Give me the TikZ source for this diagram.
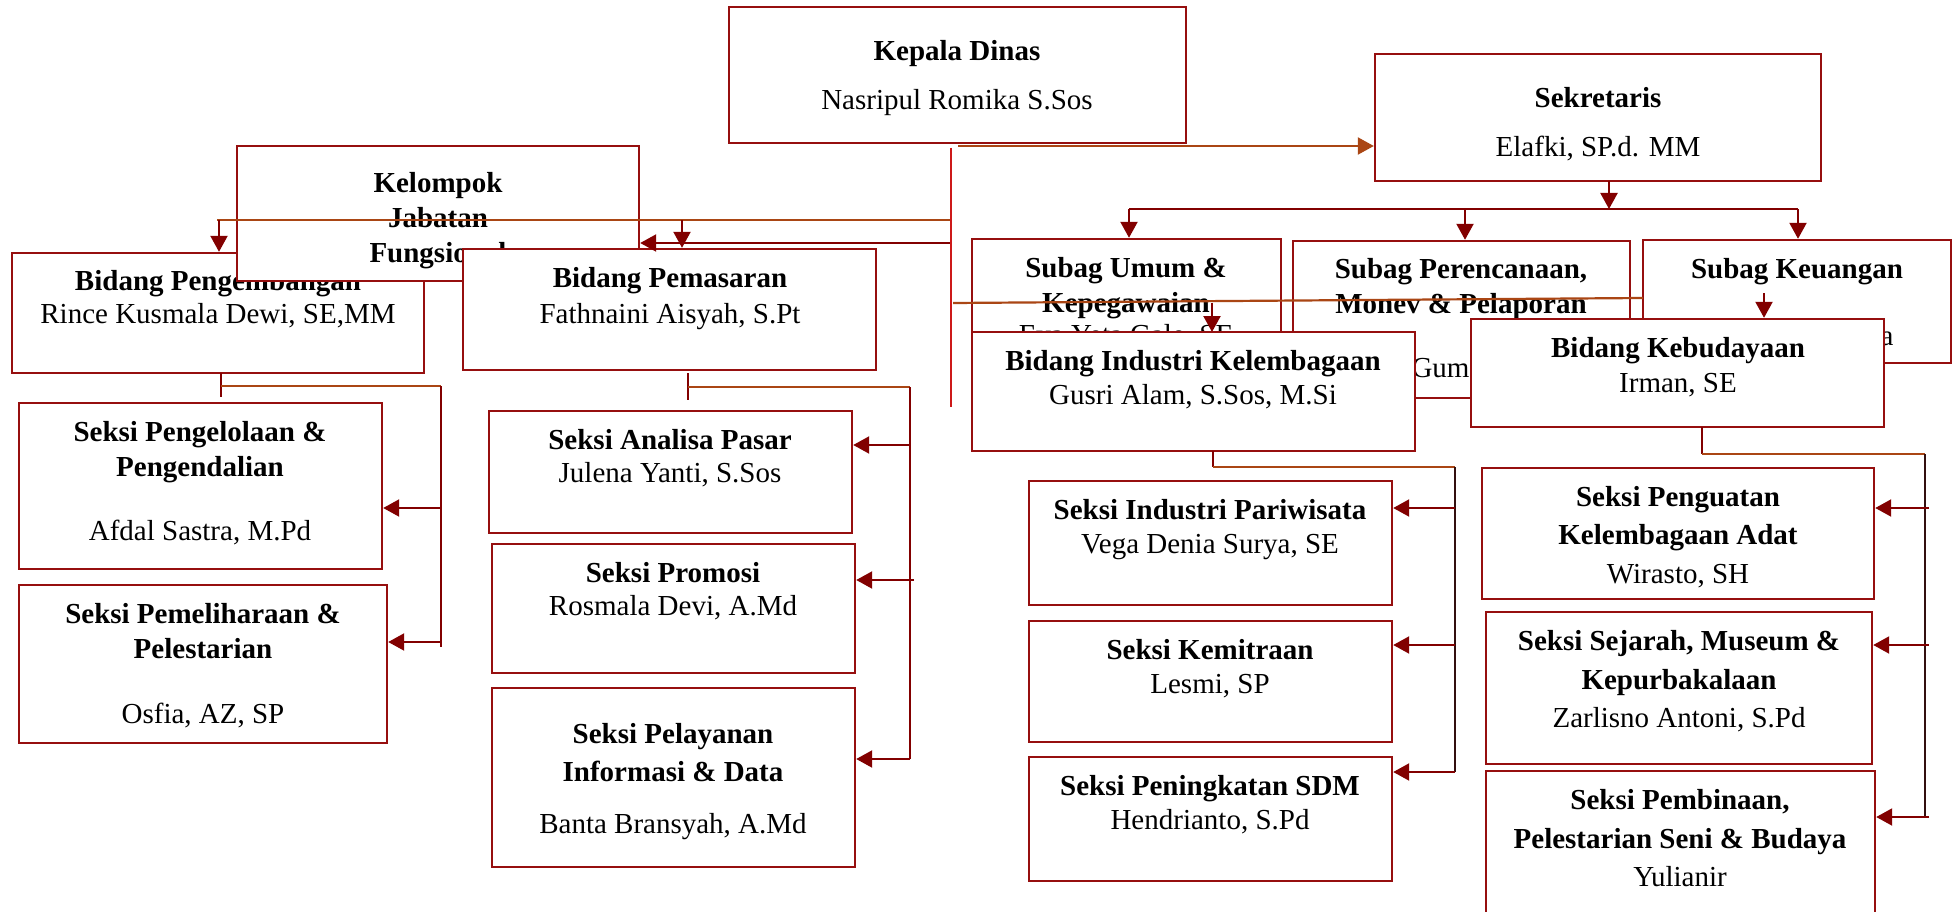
\documentclass[tikz,border=0pt]{standalone}
\usepackage{fontspec}
\setmainfont{Liberation Serif}
\usetikzlibrary{arrows.meta,fit}
\definecolor{cBox}{RGB}{150,15,15}
\definecolor{cArr}{RGB}{130,0,0}
\definecolor{cOr}{RGB}{170,70,20}
\definecolor{cRed}{RGB}{205,25,25}
\definecolor{cDark}{RGB}{50,15,15}
\newcommand\myfs{\fontsize{29pt}{35pt}\selectfont}
\tikzset{
  box/.style={draw=cBox, line width=2.4pt, fill=white, rectangle, inner sep=0pt},
  tb/.style={anchor=base, inner sep=0pt, font=\myfs\bfseries},
  tn/.style={anchor=base, inner sep=0pt, font=\myfs},
  aline/.style={draw=cArr, line width=2.2pt},
  oline/.style={draw=cOr, line width=2.2pt},
  rline/.style={draw=cRed, line width=2.4pt},
  dline/.style={draw=cDark, line width=1.8pt},
  tip/.style={-{Triangle[length=16pt,width=17pt]}},
}
\begin{document}
\begin{tikzpicture}[x=1pt,y=-1pt]
\useasboundingbox (0,0) rectangle (1953,912);
\clip (0,0) rectangle (1953,912);

% ---------- left top cluster ----------
\node[box, fit={(12,253) (424,373)}] (bpg) {};
\node[tb] (bpg1) at (218,290) {Bidang Pengembangan};
\node[tn] (bpg2) at (218,323) {Rince Kusmala Dewi, SE,MM};

\node[box, fit={(237,146) (639,281)}] (kjf) {};
\node[tb] (kjf1) at (438,193) {Kelompok};
\node[tb] (kjf2) at (438,227) {Jabatan};
\node[tb] (kjf3) at (438,262) {Fungsional};

\coordinate (o1R) at (951,220);
\coordinate (o1L) at (217,220);
\draw[oline] (o1R) -- (o1L);
\coordinate (a1) at (219,220);
\draw[aline,tip] (a1) -- (a1 |- bpg.north);

\node[box, fit={(463,249) (876,370)}] (bpm) {};
\node[tb] (bpm1) at (670,287) {Bidang Pemasaran};
\node[tn] (bpm2) at (670,323) {Fathnaini Aisyah, S.Pt};

\coordinate (a2) at (682,220);
\draw[aline,tip] (a2) -- (a2 |- bpm.north);
\coordinate (r2) at (951,243);
\draw[aline,tip] (r2) -- (r2 -| kjf.east);

% ---------- top ----------
\node[box, fit={(729,7) (1186,143)}] (kd) {};
\node[tb] (kd1) at (957,61) {Kepala Dinas};
\node[tn] (kd2) at (957,110) {Nasripul Romika S.Sos};

\node[box, fit={(1375,54) (1821,181)}] (skr) {};
\node[tb] (skr1) at (1598,108) {Sekretaris};
\node[tn] (skr2) at (1598,157) {Elafki, SP.d. MM};

\coordinate (kdA) at (958,146);
\draw[oline,tip] (kdA) -- (kdA -| skr.west);

\coordinate (vTop) at (951,148);
\coordinate (vBot) at (951,407);
\draw[rline] (vTop) -- (vBot);

\coordinate (sA) at (1609,181);
\coordinate (sB) at (1609,209);
\draw[aline,tip] (sA) -- (sB);
\coordinate (bL) at (1129,209);
\coordinate (bM) at (1465,209);
\coordinate (bR) at (1798,209);
\draw[aline] (bL) -- (bR);

% ---------- subag ----------
\node[box, fit={(972,239) (1281,430)}] (sum) {};
\node[tb] (sum1) at (1126,277) {Subag Umum \&};
\node[tb] (sum2) at (1126,312) {Kepegawaian};
\node[tn] (sum3) at (1126,344) {Eva Yeta Gale, SE};

\node[box, fit={(1293,241) (1630,398)}] (spr) {};
\node[tb] (spr1) at (1461,278) {Subag Perencanaan,};
\node[tb] (spr2) at (1461,313) {Monev \& Pelaporan};
\node[tn] (spr3) at (1461,377) {Eli Gumala, SE};

\node[box, fit={(1643,240) (1951,363)}] (sku) {};
\node[tb] (sku1) at (1797,278) {Subag Keuangan};
\node[tn] (sku2) at (1797,345) {Yessi Rosmalina};

\draw[aline,tip] (bL) -- (bL |- sum.north);
\draw[aline,tip] (bM) -- (bM |- spr.north);
\draw[aline,tip] (bR) -- (bR |- sku.north);

\coordinate (o3L) at (953,303);
\coordinate (o3R) at (1643,298);
\draw[oline] (o3L) -- (o3R);
\coordinate (a3) at (1212,302.5);
\coordinate (a3b) at (1212,332);
\draw[aline,tip] (a3) -- (a3b);

% ---------- bidang right ----------
\node[box, fit={(972,332) (1415,451)}] (bik) {};
\node[tb] (bik1) at (1193,370) {Bidang Industri Kelembagaan};
\node[tn] (bik2) at (1193,404) {Gusri Alam, S.Sos, M.Si};

\node[box, fit={(1471,319) (1884,427)}] (bkb) {};
\node[tb] (bkb1) at (1678,357) {Bidang Kebudayaan};
\node[tn] (bkb2) at (1678,392) {Irman, SE};

\coordinate (a4) at (1764,293);
\draw[aline,tip] (a4) -- (a4 |- bkb.north);

% ---------- Pengembangan children ----------
\node[box, fit={(19,403) (382,569)}] (sp1) {};
\node[tb] (sp1a) at (200,441) {Seksi Pengelolaan \&};
\node[tb] (sp1b) at (200,476) {Pengendalian};
\node[tn] (sp1c) at (200,540) {Afdal Sastra, M.Pd};

\node[box, fit={(19,585) (387,743)}] (sp2) {};
\node[tb] (sp2a) at (203,623) {Seksi Pemeliharaan \&};
\node[tb] (sp2b) at (203,658) {Pelestarian};
\node[tn] (sp2c) at (203,723) {Osfia, AZ, SP};

\coordinate (pgT) at (221,373);
\coordinate (pgB) at (221,397);
\draw[aline] (pgT) -- (pgB);
\coordinate (pgO) at (221,386);
\coordinate (pgV) at (441,386);
\draw[oline] (pgO) -- (pgV);
\coordinate (pgE) at (441,647);
\draw[aline] (pgV) -- (pgE);
\coordinate (pg1) at (441,508);
\coordinate (pg2) at (441,642);
\draw[aline,tip] (pg1) -- (pg1 -| sp1.east);
\draw[aline,tip] (pg2) -- (pg2 -| sp2.east);

% ---------- Pemasaran children ----------
\node[box, fit={(489,411) (852,533)}] (sa1) {};
\node[tb] (sa1a) at (670,449) {Seksi Analisa Pasar};
\node[tn] (sa1b) at (670,482) {Julena Yanti, S.Sos};

\node[box, fit={(492,544) (855,673)}] (sa2) {};
\node[tb] (sa2a) at (673,582) {Seksi Promosi};
\node[tn] (sa2b) at (673,615) {Rosmala Devi, A.Md};

\node[box, fit={(492,688) (855,867)}] (sa3) {};
\node[tb] (sa3a) at (673,743) {Seksi Pelayanan};
\node[tb] (sa3b) at (673,781) {Informasi \& Data};
\node[tn] (sa3c) at (673,833) {Banta Bransyah, A.Md};

\coordinate (pmT) at (688,373);
\coordinate (pmB) at (688,400);
\draw[aline] (pmT) -- (pmB);
\coordinate (pmO) at (688,387);
\coordinate (pmV) at (910,387);
\draw[oline] (pmO) -- (pmV);
\coordinate (pmE) at (910,759);
\draw[aline] (pmV) -- (pmE);
\coordinate (pm1) at (910,445);
\coordinate (pm2) at (914,580);
\draw[aline,tip] (pm1) -- (pm1 -| sa1.east);
\draw[aline,tip] (pm2) -- (pm2 -| sa2.east);
\draw[aline,tip] (pmE) -- (pmE -| sa3.east);

% ---------- Industri children ----------
\node[box, fit={(1029,481) (1392,605)}] (si1) {};
\node[tb] (si1a) at (1210,519) {Seksi Industri Pariwisata};
\node[tn] (si1b) at (1210,553) {Vega Denia Surya, SE};

\node[box, fit={(1029,621) (1392,742)}] (si2) {};
\node[tb] (si2a) at (1210,659) {Seksi Kemitraan};
\node[tn] (si2b) at (1210,693) {Lesmi, SP};

\node[box, fit={(1029,757) (1392,881)}] (si3) {};
\node[tb] (si3a) at (1210,795) {Seksi Peningkatan SDM};
\node[tn] (si3b) at (1210,829) {Hendrianto, S.Pd};

\coordinate (inT) at (1213,451);
\coordinate (inO) at (1213,467);
\draw[aline] (inT) -- (inO);
\coordinate (inV) at (1455,467);
\draw[oline] (inO) -- (inV);
\coordinate (inE) at (1455,772);
\draw[dline] (inV) -- (inE);
\coordinate (in1) at (1455,508);
\coordinate (in2) at (1455,645);
\draw[aline,tip] (in1) -- (in1 -| si1.east);
\draw[aline,tip] (in2) -- (in2 -| si2.east);
\draw[aline,tip] (inE) -- (inE -| si3.east);

% ---------- Kebudayaan children ----------
\node[box, fit={(1482,468) (1874,599)}] (sk1) {};
\node[tb] (sk1a) at (1678,506) {Seksi Penguatan};
\node[tb] (sk1b) at (1678,544) {Kelembagaan Adat};
\node[tn] (sk1c) at (1678,583) {Wirasto, SH};

\node[box, fit={(1486,612) (1872,764)}] (sk2) {};
\node[tb] (sk2a) at (1679,650) {Seksi Sejarah, Museum \&};
\node[tb] (sk2b) at (1679,689) {Kepurbakalaan};
\node[tn] (sk2c) at (1679,727) {Zarlisno Antoni, S.Pd};

\node[box, fit={(1486,771) (1875,940)}] (sk3) {};
\node[tb] (sk3a) at (1680,809) {Seksi Pembinaan,};
\node[tb] (sk3b) at (1680,848) {Pelestarian Seni \& Budaya};
\node[tn] (sk3c) at (1680,886) {Yulianir};

\coordinate (kbT) at (1702,427);
\coordinate (kbO) at (1702,454);
\draw[aline] (kbT) -- (kbO);
\coordinate (kbV) at (1925,454);
\draw[oline] (kbO) -- (kbV);
\coordinate (kbE) at (1925,817);
\draw[dline] (kbV) -- (kbE);
\coordinate (kb1) at (1929,508);
\coordinate (kb2) at (1929,645);
\coordinate (kb3) at (1929,817);
\draw[aline,tip] (kb1) -- (kb1 -| sk1.east);
\draw[aline,tip] (kb2) -- (kb2 -| sk2.east);
\draw[aline,tip] (kb3) -- (kb3 -| sk3.east);
\end{tikzpicture}
\end{document}
